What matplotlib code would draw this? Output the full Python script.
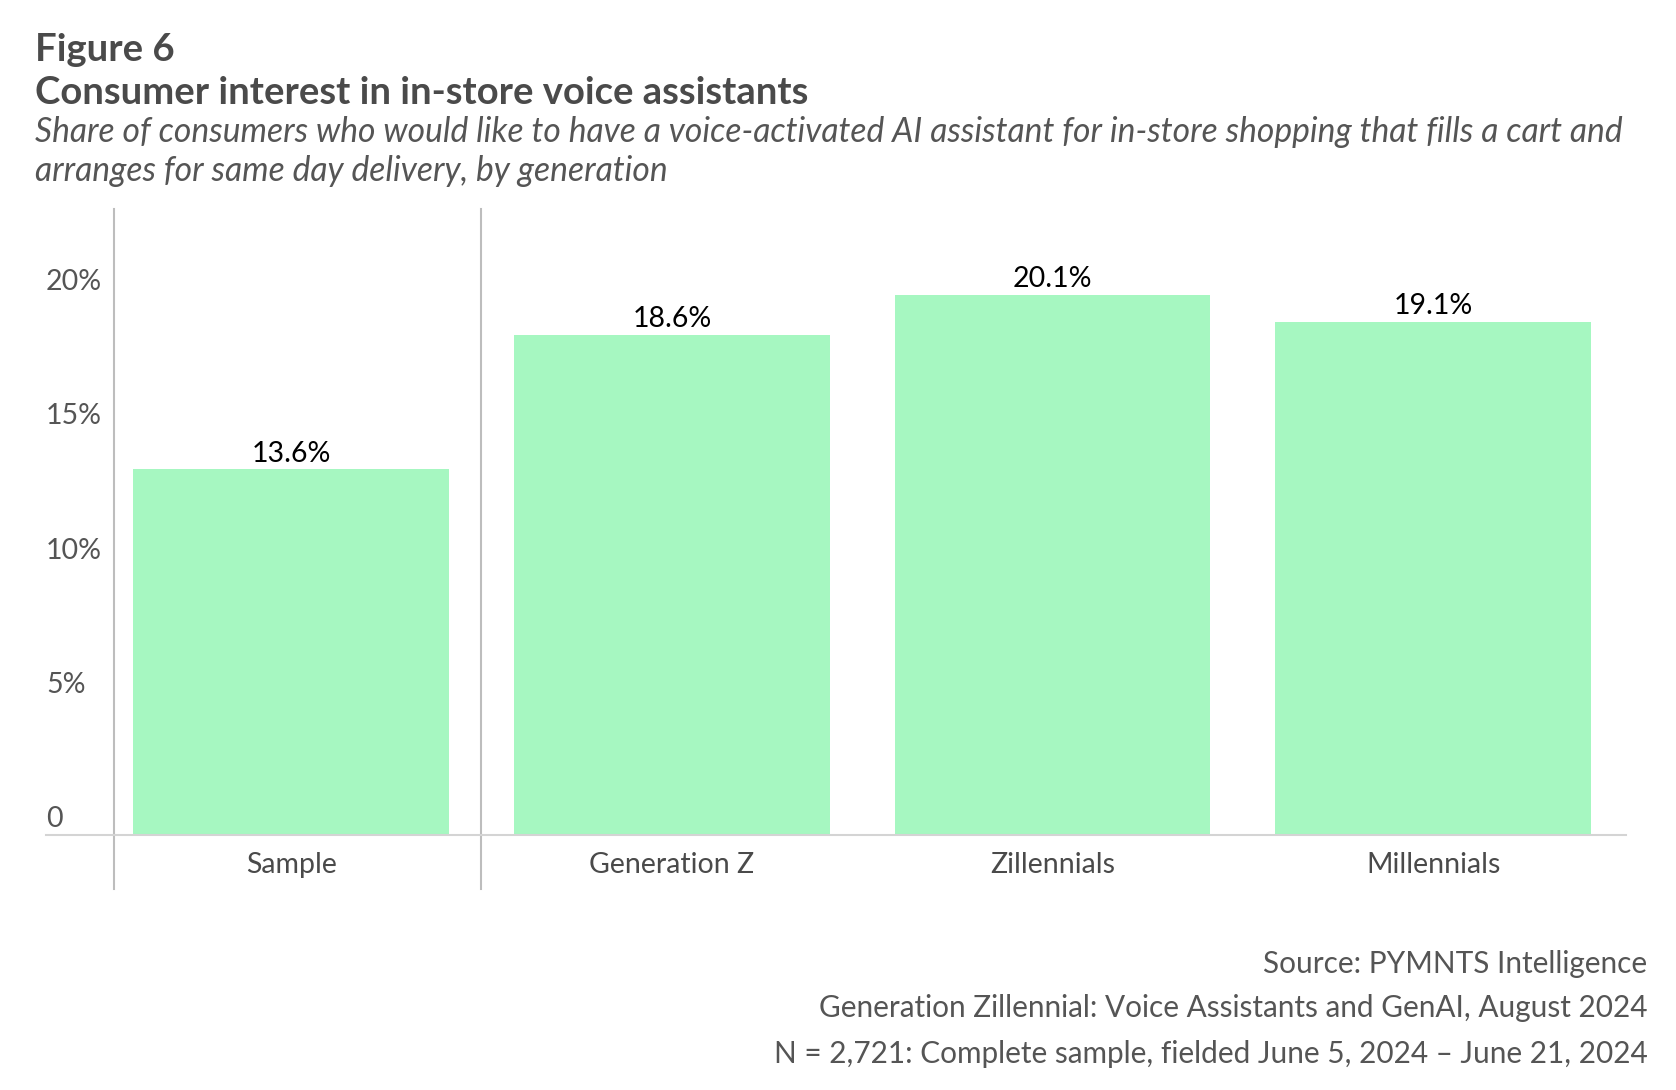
#!/usr/bin/env python3
"""
Figure 6: consumer interest in in-store voice assistants, by generation.
"""

import matplotlib
matplotlib.use('Agg')
import matplotlib.pyplot as plt
import matplotlib.transforms as transforms

# Data
categories = ['Sample', 'Generation Z', 'Zillennials', 'Millennials']
values = [13.6, 18.6, 20.1, 19.1]
value_labels = ['13.6%', '18.6%', '20.1%', '19.1%']
y_ticks = [0, 5, 10, 15, 20]
y_tick_labels = ['0', '5%', '10%', '15%', '20%']

title_top = 'Figure 6'
title = 'Consumer interest in in-store voice assistants'
subtitle = ['Share of consumers who would like to have a voice-activated AI assistant for in-store shopping that fills a cart and',
            'arranges for same day delivery, by generation']
footer = ['Source: PYMNTS Intelligence',
          'Generation Zillennial: Voice Assistants and GenAI, August 2024',
          'N = 2,721: Complete sample, fielded June 5, 2024 \u2013 June 21, 2024']

plt.rcParams['font.family'] = ['Lato', 'DejaVu Sans']

BAR_COLOR = '#a6f7c1'
TEXT_DARK = '#4a4a4a'
TEXT_MID = '#555555'

fig = plt.figure(figsize=(16.76, 10.90), dpi=100)
ax = fig.add_axes([0.0274, 0.234, 0.9428, 0.574])

x = list(range(len(categories)))
bars = ax.bar(x, values, width=0.83, color=BAR_COLOR, zorder=2)

ax.set_xlim(-0.645, 3.507)
ax.set_ylim(0, 23.28)

# Value labels above the bars
for bar, lab in zip(bars, value_labels):
    ax.annotate(lab, (bar.get_x() + bar.get_width() / 2, bar.get_height()),
                xytext=(0, 2), textcoords='offset points',
                ha='center', va='bottom', fontsize=20.5, color='black')

# Spines: only the baseline
for side in ['top', 'right', 'left']:
    ax.spines[side].set_visible(False)
ax.spines['bottom'].set_color('#d4d4d4')
ax.spines['bottom'].set_linewidth(1.5)

# Category labels
ax.set_xticks(x)
ax.set_xticklabels(categories, fontsize=20.5, color=TEXT_DARK)
ax.tick_params(axis='x', length=0, pad=12)

# Y labels sit just above their value level, left aligned
ax.set_yticks([])
trans = transforms.blended_transform_factory(ax.transAxes, ax.transData)
for v, lab in zip(y_ticks, y_tick_labels):
    ax.annotate(lab, (0, v), xycoords=trans, xytext=(0, 1.8), textcoords='offset points',
                ha='left', va='bottom', fontsize=20.5, color=TEXT_MID)

# Separator lines
for xv in [-0.465, 0.4986]:
    ax.axvline(xv, ymin=-0.087, ymax=1.0, color='#bdbdbd', linewidth=1.5, clip_on=False, zorder=1)

# Titles
fig.text(0.021, 0.954, title_top, fontsize=27.5, fontweight='bold', color=TEXT_DARK, va='center', ha='left')
fig.text(0.021, 0.915, title, fontsize=27.5, fontweight='bold', color=TEXT_DARK, va='center', ha='left')
fig.text(0.021, 0.879, subtitle[0], fontsize=24.2, style='italic', color=TEXT_MID, va='center', ha='left')
fig.text(0.021, 0.843, subtitle[1], fontsize=24.2, style='italic', color=TEXT_MID, va='center', ha='left')

# Footer
for yy, line in zip([0.116, 0.075, 0.033], footer):
    fig.text(0.983, yy, line, fontsize=21.4, color=TEXT_MID, va='center', ha='right')

plt.savefig('out.png', dpi=100)
plt.close()
